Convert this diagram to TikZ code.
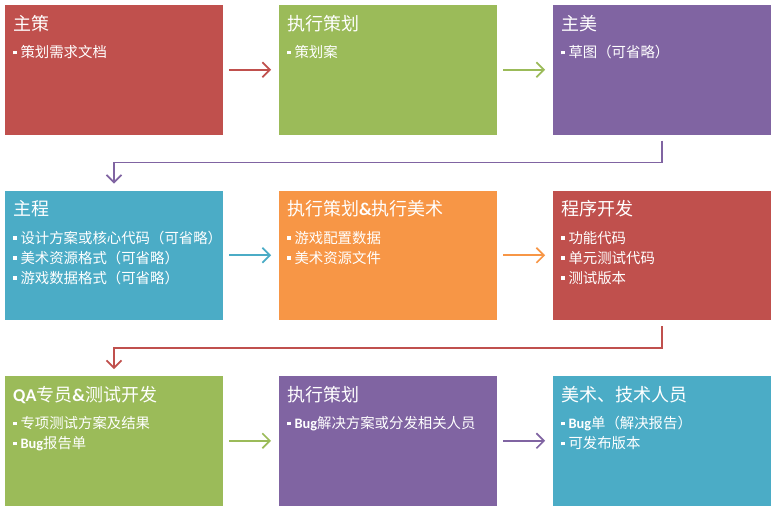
\documentclass[tikz,border=0pt]{standalone}
\usepackage{fontspec}
\setmainfont{Noto Sans CJK SC}
\newfontfamily\latinfont{Carlito}
\usetikzlibrary{arrows.meta,positioning}
\definecolor{boxred}{HTML}{C0504D}
\definecolor{boxgreen}{HTML}{9BBB59}
\definecolor{boxpurple}{HTML}{8064A2}
\definecolor{boxblue}{HTML}{4BACC6}
\definecolor{boxorange}{HTML}{F79646}
\newcommand{\itemdot}{\rule[3.5pt]{3.8pt}{3.8pt}\hspace{3.5pt}}
\newcommand{\boxtitle}[1]{{\fontsize{18}{20}\selectfont #1}\\[7.5pt]}
\newcommand{\latb}[1]{{\latinfont\bfseries #1}}
\tikzset{
    stagebox/.style={rectangle,fill=#1,minimum width=218pt,minimum height=129.5pt,inner sep=0pt,outer sep=0pt},
    stagetext/.style={anchor=north west,align=left,text=white,inner sep=0pt,font=\fontsize{14.4}{20}\selectfont},
    stageline/.style={-{Straight Barb[length=7.5pt,width=15pt]},line width=1.6pt,draw=#1,shorten <=6pt,shorten >=8pt},
    stagebend/.style={-{Straight Barb[length=7.5pt,width=15pt]},line width=1.6pt,draw=#1,shorten <=6pt,shorten >=7pt}
}
\begin{document}
\begin{tikzpicture}[x=1pt,y=1pt,node distance=56pt]
    \useasboundingbox (0,0) rectangle (778,-511);
    % boxes
    \node[stagebox=boxred,anchor=north west] (zhuce) at (5,-5) {};
    \node[stagebox=boxgreen,right=of zhuce] (zhixing) {};
    \node[stagebox=boxpurple,right=of zhixing] (zhumei) {};
    \node[stagebox=boxblue,below=of zhuce] (zhucheng) {};
    \node[stagebox=boxorange,right=of zhucheng] (peizhi) {};
    \node[stagebox=boxred,right=of peizhi] (kaifa) {};
    \node[stagebox=boxgreen,below=of zhucheng] (ceshi) {};
    \node[stagebox=boxpurple,right=of ceshi] (jiejue) {};
    \node[stagebox=boxblue,right=of jiejue] (fabu) {};
    % texts
    \node[stagetext] (zhuce-t) at ([xshift=8pt,yshift=-10pt]zhuce.north west)
        {\boxtitle{主策}\itemdot 策划需求文档};
    \node[stagetext] (zhixing-t) at ([xshift=8pt,yshift=-10pt]zhixing.north west)
        {\boxtitle{执行策划}\itemdot 策划案};
    \node[stagetext] (zhumei-t) at ([xshift=8pt,yshift=-10pt]zhumei.north west)
        {\boxtitle{主美}\itemdot 草图（可省略）};
    \node[stagetext] (zhucheng-t) at ([xshift=8pt,yshift=-10pt]zhucheng.north west)
        {\boxtitle{主程}\itemdot 设计方案或核心代码（可省略）\\\itemdot 美术资源格式（可省略）\\\itemdot 游戏数据格式（可省略）};
    \node[stagetext] (peizhi-t) at ([xshift=8pt,yshift=-10pt]peizhi.north west)
        {\boxtitle{执行策划\latb{\&}执行美术}\itemdot 游戏配置数据\\\itemdot 美术资源文件};
    \node[stagetext] (kaifa-t) at ([xshift=8pt,yshift=-10pt]kaifa.north west)
        {\boxtitle{程序开发}\itemdot 功能代码\\\itemdot 单元测试代码\\\itemdot 测试版本};
    \node[stagetext] (ceshi-t) at ([xshift=8pt,yshift=-10pt]ceshi.north west)
        {\boxtitle{\latb{QA}专员\latb{\&}测试开发}\itemdot 专项测试方案及结果\\\itemdot \latb{Bug}报告单};
    \node[stagetext] (jiejue-t) at ([xshift=8pt,yshift=-10pt]jiejue.north west)
        {\boxtitle{执行策划}\itemdot \latb{Bug}解决方案或分发相关人员};
    \node[stagetext] (fabu-t) at ([xshift=8pt,yshift=-10pt]fabu.north west)
        {\boxtitle{美术、技术人员}\itemdot \latb{Bug}单（解决报告）\\\itemdot 可发布版本};
    % arrows
    \draw[stageline=boxred] (zhuce) -- (zhixing);
    \draw[stageline=boxgreen] (zhixing) -- (zhumei);
    \draw[stagebend=boxpurple] (zhumei.south) -- ++(0,-28) -| (zhucheng.north);
    \draw[stageline=boxblue] (zhucheng) -- (peizhi);
    \draw[stageline=boxorange] (peizhi) -- (kaifa);
    \draw[stagebend=boxred] (kaifa.south) -- ++(0,-28) -| (ceshi.north);
    \draw[stageline=boxgreen] (ceshi) -- (jiejue);
    \draw[stageline=boxpurple] (jiejue) -- (fabu);
\end{tikzpicture}
\end{document}
